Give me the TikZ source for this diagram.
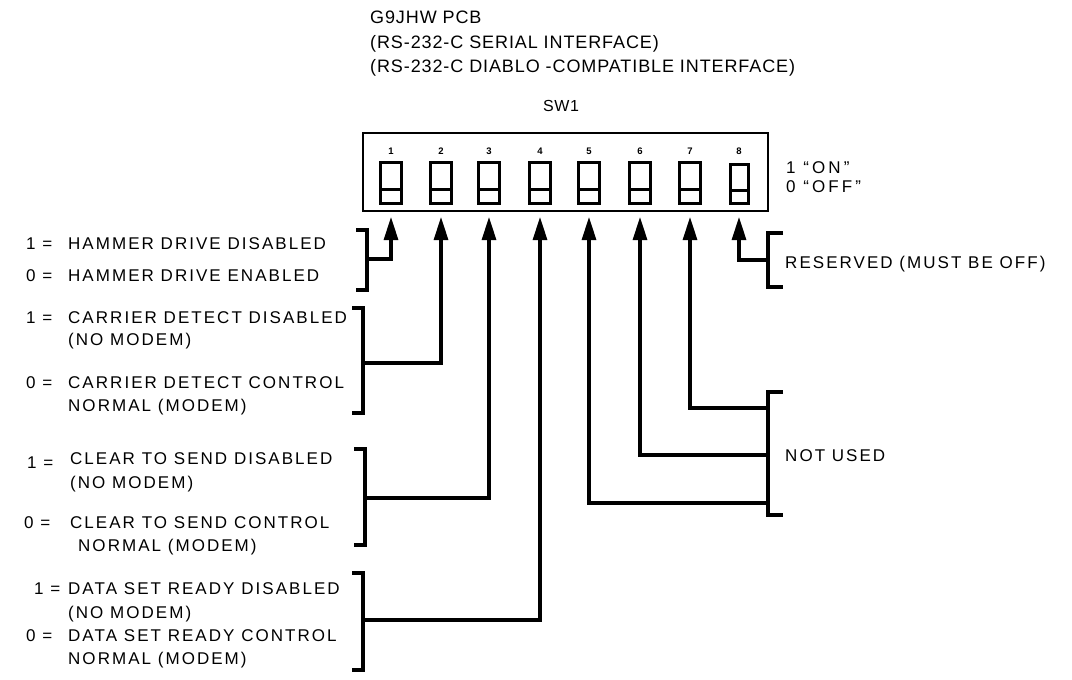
\documentclass[tikz,border=0pt]{standalone}
\usepackage{fontspec}
\setmainfont{Liberation Sans}
\usetikzlibrary{arrows.meta}
\tikzset{
  lbl/.style={anchor=west, inner sep=0pt, text height=12pt, text depth=0pt,
    font=\fontsize{17}{19}\selectfont\addfontfeature{LetterSpace=12}},
  hdr/.style={anchor=west, inner sep=0pt, text height=13pt, text depth=0pt,
    font=\fontsize{18}{20}\selectfont\addfontfeature{LetterSpace=5}},
  small/.style={anchor=west, inner sep=0pt, text height=12pt, text depth=0pt,
    font=\fontsize{17}{19}\selectfont\addfontfeature{LetterSpace=18}},
  num/.style={inner sep=0pt, text height=7pt, text depth=0pt,
    font=\fontsize{9.5}{10}\selectfont\bfseries},
  swl/.style={line width=3pt},
  brk/.style={line width=3.2pt, line join=miter},
  arr/.style={line width=3.2pt, -{Triangle[length=23pt,width=14pt]}},
}
\begin{document}
\begin{tikzpicture}[x=1pt,y=-1pt]
\useasboundingbox (0,0) rectangle (1072,680);
% header
\node[hdr] (h1) at (370,17) {G9JHW PCB};
\node[hdr] (h2) at (370,42) {(RS-232-C SERIAL INTERFACE)};
\node[hdr] (h3) at (370,66) {(RS-232-C DIABLO -COMPATIBLE INTERFACE)};
\node[lbl, anchor=center, font=\fontsize{16}{18}\selectfont\addfontfeature{LetterSpace=4}] (sw) at (561,105) {SW1};
% PCB switch block
\draw[line width=2.8pt] (363,133) rectangle (768,211);
\foreach \i/\x in {1/391,2/441,3/489,4/540,5/589,6/640,7/690} {
  \draw[swl] (\x-10.5,162) rectangle (\x+10.5,203);
  \draw[swl] (\x-10.5,189) -- (\x+10.5,189);
  \node[num] (n\i) at (\x,151) {\i};
  \coordinate (t\i) at (\x,217);
}
\draw[swl] (730,164) rectangle (748,203);
\draw[swl] (730,190) -- (748,190);
\node[num] (n8) at (739,151) {8};
\coordinate (t8) at (739,217);
\node[small] (on) at (786,167) {1 ``ON''};
\node[small] (off) at (786,186) {0 ``OFF''};
% hammer
\node[lbl] (a1p) at (26,243) {1 =};
\node[lbl] (a1) at (68,243) {HAMMER DRIVE DISABLED};
\node[lbl] (a0p) at (26,275) {0 =};
\node[lbl] (a0) at (68,275) {HAMMER DRIVE ENABLED};
\draw[brk] (356,230) -- (367,230) -- (367,290) -- (356,290);
\coordinate (bA) at (367,259);
% carrier
\node[lbl] (b1p) at (26,317) {1 =};
\node[lbl] (b1) at (68,317) {CARRIER DETECT DISABLED};
\node[lbl] (b1b) at (68,339) {(NO MODEM)};
\node[lbl] (b0p) at (26,382) {0 =};
\node[lbl] (b0) at (68,382) {CARRIER DETECT CONTROL};
\node[lbl] (b0b) at (68,405) {NORMAL (MODEM)};
\draw[brk] (352,308) -- (363,308) -- (363,413) -- (352,413);
\coordinate (bB) at (363,363);
% clear to send
\node[lbl] (c1p) at (27,462) {1 =};
\node[lbl] (c1) at (70,458) {CLEAR TO SEND DISABLED};
\node[lbl] (c1b) at (70,482) {(NO MODEM)};
\node[lbl] (c0p) at (24,522) {0 =};
\node[lbl] (c0) at (70,522) {CLEAR TO SEND CONTROL};
\node[lbl] (c0b) at (78,545) {NORMAL (MODEM)};
\draw[brk] (354,449) -- (365,449) -- (365,545) -- (354,545);
\coordinate (bC) at (365,498);
% data set ready
\node[lbl] (d1p) at (34,588) {1 =};
\node[lbl] (d1) at (68,588) {DATA SET READY DISABLED};
\node[lbl] (d1b) at (68,612) {(NO MODEM)};
\node[lbl] (d0p) at (26,635) {0 =};
\node[lbl] (d0) at (68,635) {DATA SET READY CONTROL};
\node[lbl] (d0b) at (68,658) {NORMAL (MODEM)};
\draw[brk] (352,573) -- (363,573) -- (363,670) -- (352,670);
\coordinate (bD) at (363,620);
% right side
\draw[brk] (783,233) -- (768,233) -- (768,287) -- (783,287);
\coordinate (bR) at (768,260);
\node[lbl] (res) at (785,262) {RESERVED (MUST BE OFF)};
\draw[brk] (783,392) -- (768,392) -- (768,515) -- (783,515);
\coordinate (bN7) at (768,408);
\coordinate (bN6) at (768,455);
\coordinate (bN5) at (768,503);
\node[lbl] (nu) at (785,455) {NOT USED};
% arrows
\draw[arr] (bA) -| (t1);
\draw[arr] (bB) -| (t2);
\draw[arr] (bC) -| (t3);
\draw[arr] (bD) -| (t4);
\draw[arr] (bN5) -| (t5);
\draw[arr] (bN6) -| (t6);
\draw[arr] (bN7) -| (t7);
\draw[arr] (bR) -| (t8);
\end{tikzpicture}
\end{document}
